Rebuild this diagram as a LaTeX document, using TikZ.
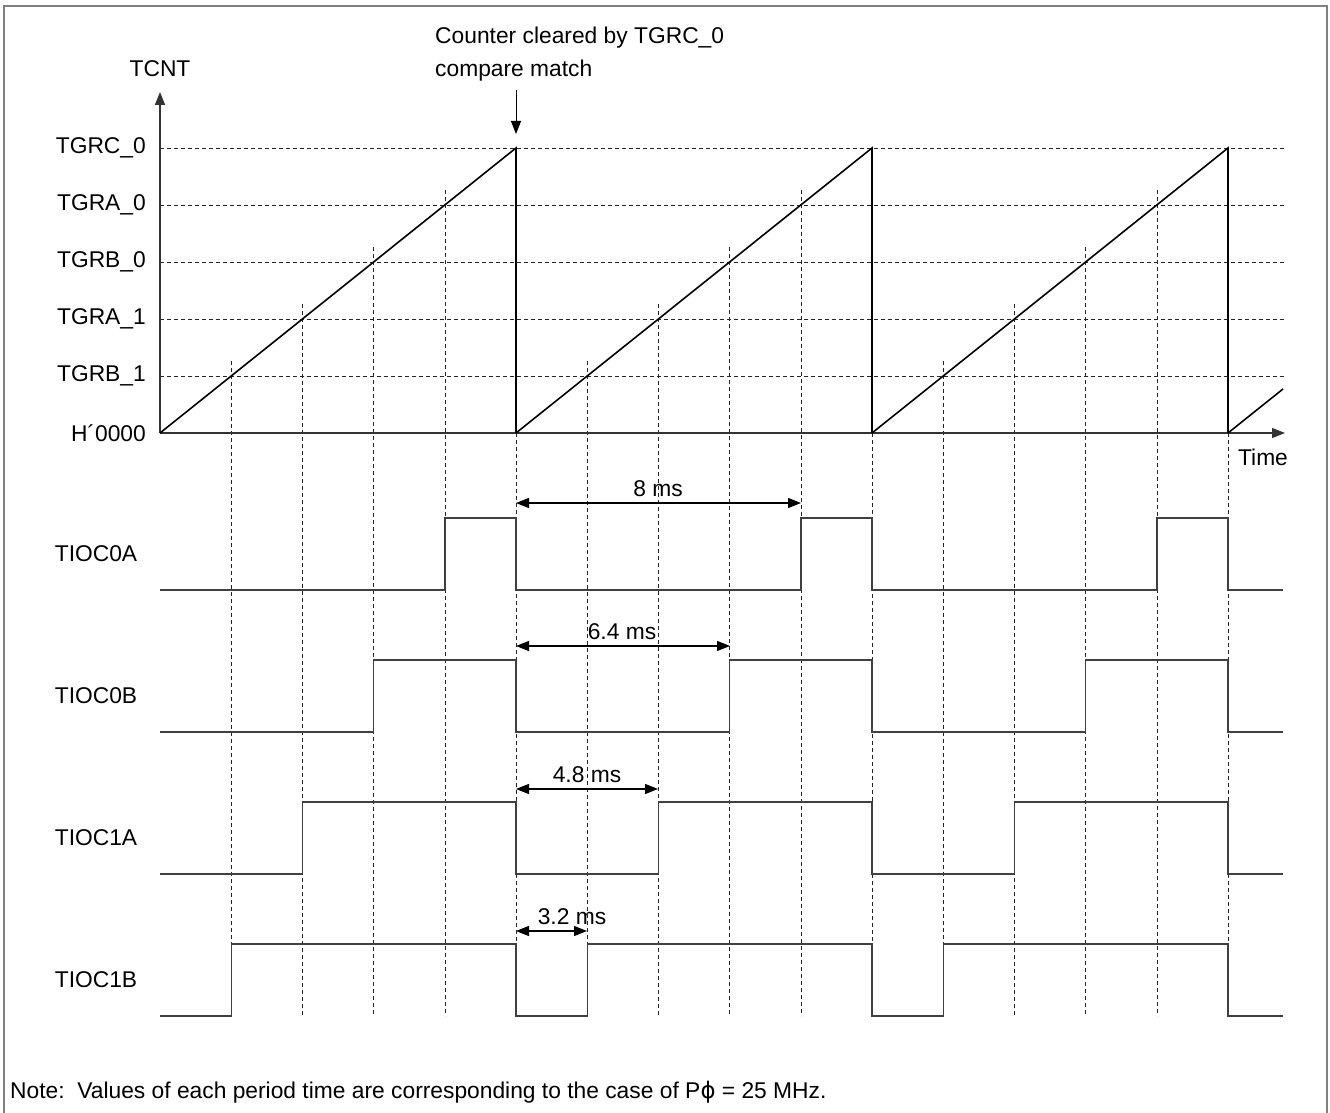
\documentclass[tikz,border=0pt]{standalone}
\usepackage{fontspec}
\setmainfont{Liberation Sans}
\newfontfamily\greekfont{DejaVu Sans}
\usetikzlibrary{arrows.meta}

\begin{document}
\begin{tikzpicture}[x=1pt,y=-1pt,>={Triangle[length=13pt,width=10pt]},
  lbl/.style={inner sep=0pt,font=\fontsize{22.8}{27}\selectfont},
  guide/.style={black!85,line width=0.8pt,dash pattern=on 4pt off 3pt},
  wave/.style={black!75,line width=1.4pt},
  ramp/.style={black,line width=1.6pt},
  dim/.style={<->,line width=1.2pt}]
\useasboundingbox (0,0) rectangle (1330,1113);
\draw[gray,line width=1.6pt] (4,1113) -- (4,6) -- (1327,6) -- (1327,1113);

% compare levels
\foreach \y/\txt/\id in {148/TGRC\_0/c0,205/TGRA\_0/a0,262/TGRB\_0/b0,319/TGRA\_1/a1,376/TGRB\_1/b1}{
  \node[lbl,anchor=east] (lv\id) at (146,\y) {\txt};
  \draw[guide] (160,\y) -- (1285,\y);
}
\node[lbl,anchor=east] (lvz) at (146,433) {H´0000};

% vertical guides
\foreach \s in {160,516,872}
  \foreach \k in {1,...,4}
    \draw[guide] (\s+71.25*\k,433-57*\k-15) -- (\s+71.25*\k,1016);
\foreach \s in {516,872,1228}
  \draw[guide] (\s,433) -- (\s,1016);

% axes
\coordinate (o) at (160,433);
\coordinate (ytip) at (160,92);
\coordinate (xtip) at (1285,433);
\draw[->,black!80,line width=1.2pt] (o) -- (ytip);
\draw[->,black!80,line width=1.2pt] (o) -- (xtip);
\node[lbl] (tcnt) at (160,69) {TCNT};
\node[lbl] (time) at (1263,457) {Time};

% counter
\foreach \s in {160,516,872}
  \draw[ramp] (\s,433) -- (\s+356,148) -- (\s+356,433);
\draw[ramp] (1228,433) -- (1283,389);

% clear annotation
\node[lbl,anchor=base west,align=left,font=\fontsize{22.8}{33}\selectfont]
  (clr) at (435,77) {Counter cleared by TGRC\_0\\compare match};
\coordinate (clrtop) at (516,90);
\coordinate (clrend) at (516,134);
\draw[->,line width=0.9pt] (clrtop) -- (clrend);

% output waveforms
\foreach \nm/\h/\k in {TIOC0A/518/4,TIOC0B/660/3,TIOC1A/802/2,TIOC1B/944/1}{
  \pgfmathsetmacro\l{\h+72}
  \pgfmathsetmacro\d{71.25*\k}
  \node[lbl] (\nm) at (96,\h+36) {\nm};
  \draw[wave] (160,\l) -- (160+\d,\l) -- (160+\d,\h) -- (516,\h) -- (516,\l)
    -- (516+\d,\l) -- (516+\d,\h) -- (872,\h) -- (872,\l)
    -- (872+\d,\l) -- (872+\d,\h) -- (1228,\h) -- (1228,\l) -- (1283,\l);
}

% periods
\foreach \y/\e/\tx/\c/\id in {503/801/8 ms/658/d8,646/730/6.4 ms/622/d64,789/658/4.8 ms/587/d48,931/587/3.2 ms/572/d32}{
  \coordinate (\id a) at (516,\y);
  \coordinate (\id b) at (\e,\y);
  \draw[dim] (\id a) -- (\id b);
  \node[lbl,anchor=base] (\id) at (\c,\y-7) {\tx};
}

\node[lbl,anchor=base west] (note) at (10,1098)
  {Note:~~Values of each period time are corresponding to the case of P{\greekfont ϕ} = 25 MHz.};
\end{tikzpicture}
\end{document}
